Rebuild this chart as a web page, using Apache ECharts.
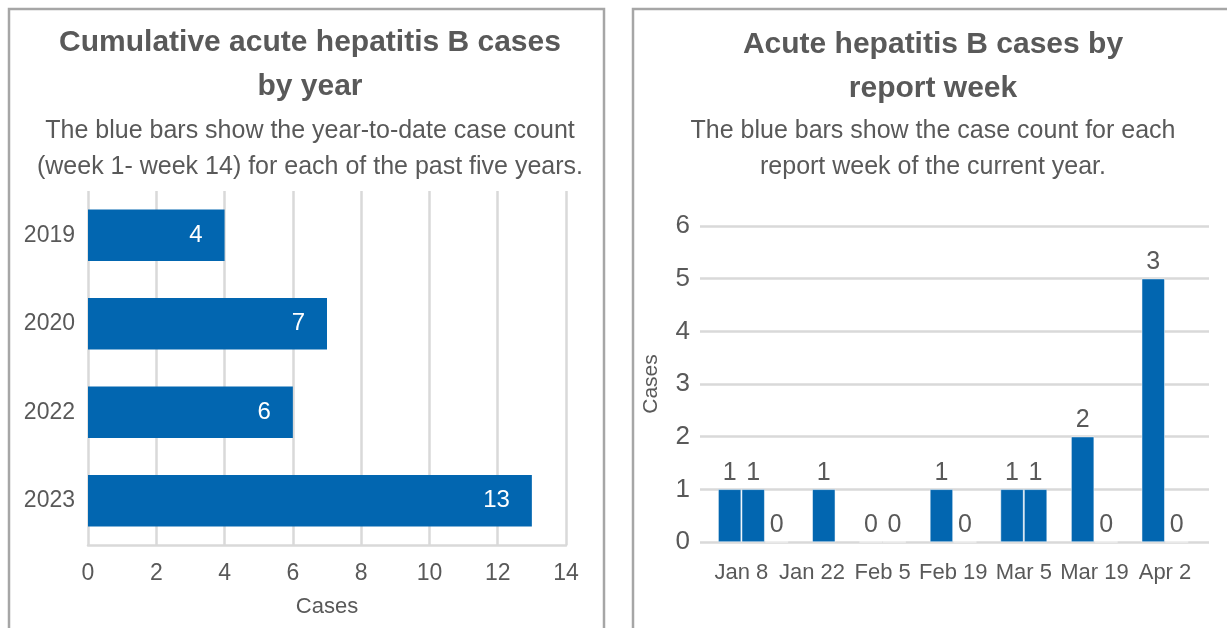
<!DOCTYPE html>
<html>
<head>
<meta charset="utf-8">
<script src="https://cdn.jsdelivr.net/npm/echarts@6.0.0/dist/echarts.min.js"></script>
<style>
  html, body { margin: 0; padding: 0; background: #fff; overflow: hidden; }
  #main { width: 1227px; height: 628px; }
</style>
</head>
<body>
<div id="main"></div>
<script>
// left panel: year-to-date counts
var years = ['2019', '2020', '2022', '2023'];
var ytdCases = [4, 7, 6, 13];

// right panel: report weeks 1-14 (slot = position on the week axis)
var weekSlot = [0, 1, 2, 4, 6, 7, 9, 10, 12, 13, 15, 16, 18, 19];
var weekCases = [1, 1, 0, 1, 0, 0, 1, 0, 1, 1, 2, 0, 5, 0];
var weekLabels = ['1', '1', '0', '1', '0', '0', '1', '0', '1', '1', '2', '0', '3', '0'];
var tickSlot = [0.5, 3.5, 6.5, 9.5, 12.5, 15.5, 18.5];
var tickLabels = ['Jan 8', 'Jan 22', 'Feb 5', 'Feb 19', 'Mar 5', 'Mar 19', 'Apr 2'];

var FONT = "'Liberation Sans', Arial, sans-serif";
var GREY = '#595959';
var BLUE = '#0266b0';
var GRID = '#d9d9d9';

var chart = echarts.init(document.getElementById('main'), null, { renderer: 'canvas' });

chart.setOption({
    animation: false,
    textStyle: { fontFamily: FONT },
    graphic: [
        { type: 'rect', shape: { x: 9, y: 9, width: 595, height: 700 },
          style: { fill: 'none', stroke: '#a6a6a6', lineWidth: 2.5 } },
        { type: 'rect', shape: { x: 633, y: 9, width: 700, height: 700 },
          style: { fill: 'none', stroke: '#a6a6a6', lineWidth: 2.5 } }
    ],
    title: [
        {
            text: 'Cumulative acute hepatitis B cases\nby year',
            subtext: 'The blue bars show the year-to-date case count\n(week 1- week 14) for each of the past five years.',
            left: 305, top: 16, textAlign: 'center', itemGap: 4,
            textStyle: { fontFamily: FONT, fontSize: 30, fontWeight: 'bold', color: GREY, lineHeight: 44 },
            subtextStyle: { fontFamily: FONT, fontSize: 25, color: GREY, lineHeight: 36 }
        },
        {
            text: 'Acute hepatitis B cases by\nreport week',
            subtext: 'The blue bars show the case count for each\nreport week of the current year.',
            left: 928, top: 18, textAlign: 'center', itemGap: 2,
            textStyle: { fontFamily: FONT, fontSize: 30, fontWeight: 'bold', color: GREY, lineHeight: 44 },
            subtextStyle: { fontFamily: FONT, fontSize: 25, color: GREY, lineHeight: 36 }
        }
    ],
    grid: [
        { left: 88, width: 478, top: 191, height: 354 },
        { left: 700, width: 509, top: 226, height: 316 }
    ],
    xAxis: [
        {
            gridIndex: 0, type: 'value', min: 0, max: 14, interval: 2,
            name: 'Cases', nameLocation: 'middle', nameGap: 51,
            nameTextStyle: { fontFamily: FONT, fontSize: 22, color: GREY },
            axisLine: { show: true, lineStyle: { color: GRID, width: 2.5 } },
            axisTick: { show: false },
            axisLabel: { fontFamily: FONT, fontSize: 23, color: GREY, margin: 17 },
            splitLine: { show: true, lineStyle: { color: GRID, width: 2.5 } }
        },
        {
            gridIndex: 1, type: 'value', min: -1.26, max: 20.37,
            axisLine: { show: false },
            axisTick: { show: false },
            splitLine: { show: false },
            axisLabel: {
                fontFamily: FONT, fontSize: 22, color: GREY, margin: 20,
                customValues: tickSlot,
                formatter: function (v) {
                    var i = tickSlot.indexOf(v);
                    return i >= 0 ? tickLabels[i] : '';
                }
            }
        }
    ],
    yAxis: [
        {
            gridIndex: 0, type: 'category', data: years, inverse: true,
            axisLine: { show: false },
            axisTick: { show: false },
            axisLabel: { fontFamily: FONT, fontSize: 23, color: GREY, margin: 13 }
        },
        {
            gridIndex: 1, type: 'value', min: 0, max: 6, interval: 1,
            name: 'Cases', nameLocation: 'middle', nameGap: 38, nameRotate: 90,
            nameTextStyle: { fontFamily: FONT, fontSize: 21, color: GREY },
            axisLine: { show: false },
            axisTick: { show: false },
            axisLabel: { fontFamily: FONT, fontSize: 26, color: GREY, margin: 10 },
            splitLine: { show: true, lineStyle: { color: GRID, width: 2.5 } }
        }
    ],
    series: [
        {
            type: 'bar', xAxisIndex: 0, yAxisIndex: 0,
            data: ytdCases,
            barCategoryGap: '42%',
            itemStyle: { color: BLUE },
            label: {
                show: true, position: 'insideRight', distance: 22,
                fontFamily: FONT, fontSize: 24, color: '#fff'
            }
        },
        {
            type: 'bar', xAxisIndex: 1, yAxisIndex: 1,
            data: weekSlot.map(function (s, i) { return [s, weekCases[i]]; }),
            barWidth: 23,
            itemStyle: { color: BLUE, borderColor: '#fff', borderWidth: 0.5 },
            label: {
                show: true, position: 'top', distance: 4,
                fontFamily: FONT, fontSize: 25, color: GREY,
                formatter: function (p) { return weekLabels[p.dataIndex]; }
            }
        }
    ]
});
</script>
</body>
</html>
